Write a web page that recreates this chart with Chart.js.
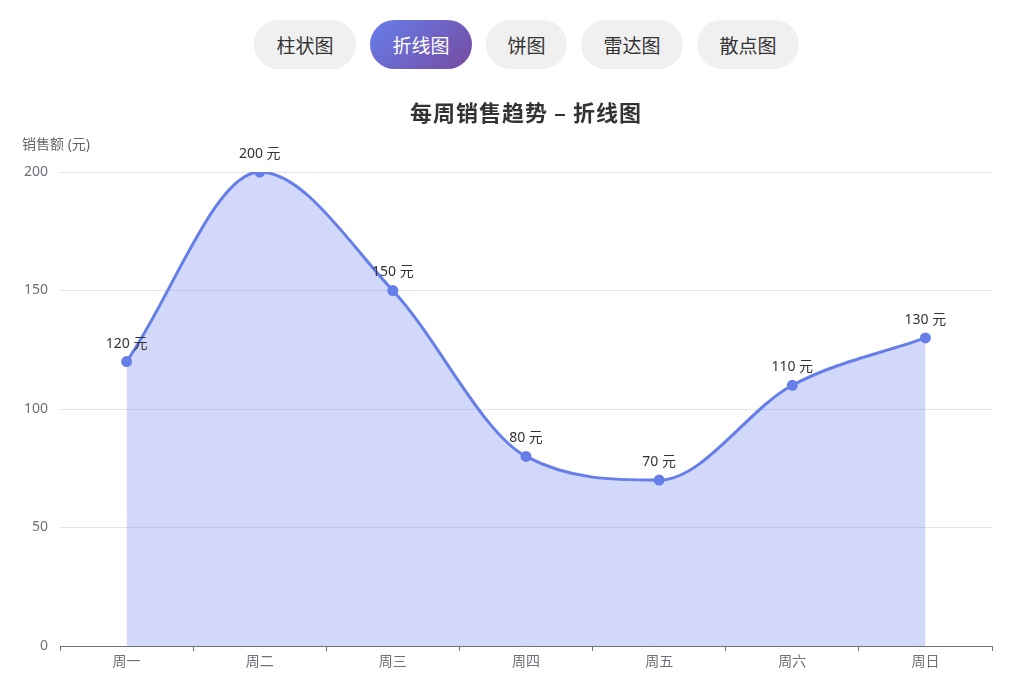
<!DOCTYPE html>
<html>
<head>
<meta charset="utf-8">
<script src="https://cdn.jsdelivr.net/npm/chart.js@4"></script>
<style>
  html, body { margin: 0; padding: 0; background: #fff; }
  body { width: 1024px; height: 697px; position: relative; overflow: hidden;
         font-family: "Noto Sans CJK SC", "Noto Sans", sans-serif; }
  .tabs { position: absolute; top: 20px; left: 254px; display: flex; gap: 14px; }
  .tabs button { height: 49px; padding: 0; border: none; border-radius: 25px;
         background: #f0f0f0; color: #333; font-size: 19px; line-height: 49px;
         font-family: "Noto Sans CJK SC", sans-serif; }
  .tabs button.w3 { width: 102px; }
  .tabs button.w2 { width: 81px; }
  .tabs button.active { background: linear-gradient(135deg, #667eea 0%, #764ba2 100%); color: #fff; }
  .wrap { position: absolute; left: 0; top: 85px; width: 1024px; height: 612px; }
</style>
</head>
<body>
<div class="tabs">
  <button class="w3">柱状图</button>
  <button class="w3 active">折线图</button>
  <button class="w2">饼图</button>
  <button class="w3">雷达图</button>
  <button class="w3">散点图</button>
</div>
<div class="wrap"><canvas id="chart"></canvas></div>
<script>
const days = ['周一', '周二', '周三', '周四', '周五', '周六', '周日'];
const sales = [120, 200, 150, 80, 70, 110, 130];
const yTicks = [0, 50, 100, 150, 200];
const chartTitle = '每周销售趋势 – 折线图';
const yName = '销售额 (元)';

const canvas = document.querySelector('#chart');
const ctx = canvas.getContext('2d');
const font = '"Noto Sans", "Noto Sans CJK SC", sans-serif';

// title, axis name and point labels
const textPlugin = {
    id: 'texts',
    afterDatasetsDraw(chart) {
        const c = chart.ctx;
        const area = chart.chartArea;
        c.save();
        c.fillStyle = '#333';
        c.font = 'bold 22px "Noto Sans CJK SC", sans-serif';
        c.letterSpacing = '1px';
        c.textAlign = 'center';
        c.textBaseline = 'middle';
        c.fillText(chartTitle, (area.left + area.right) / 2, 28);
        c.letterSpacing = '0px';

        c.fillStyle = '#666';
        c.font = '14px ' + font;
        c.textAlign = 'left';
        c.fillText(yName, 22, 60);

        c.fillStyle = '#333';
        c.textAlign = 'center';
        const meta = chart.getDatasetMeta(0);
        meta.data.forEach((pt, i) => {
            c.fillText(sales[i] + ' 元', pt.x, pt.y - 18);
        });
        c.restore();
    }
};

const chart = new Chart(ctx, {
    type: 'line',
    data: {
        labels: days,
        datasets: [{
            data: sales,
            borderColor: '#667eea',
            backgroundColor: 'rgba(102,126,234,0.3)',
            pointBackgroundColor: '#667eea',
            pointBorderColor: '#667eea',
            pointRadius: 4,
            borderWidth: 3,
            fill: 'origin',
            cubicInterpolationMode: 'monotone'
        }]
    },
    options: {
        responsive: true,
        maintainAspectRatio: false,
        animation: false,
        layout: { padding: { top: 87, right: 32, left: 0, bottom: 0 } },
        plugins: { legend: { display: false }, tooltip: { enabled: false } },
        scales: {
            x: {
                offset: true,
                grid: { offset: true, drawOnChartArea: false, drawTicks: true, tickLength: 5, color: '#6e7079' },
                border: { color: '#6e7079', width: 1 },
                ticks: { color: '#6e7079', font: { size: 14, family: font }, padding: 3 },
                afterFit(scale) { scale.height = 51; }
            },
            y: {
                min: 0,
                max: 200,
                afterBuildTicks(scale) { scale.ticks = yTicks.map(v => ({ value: v })); },
                grid: { color: '#e0e6f1', drawTicks: false },
                border: { display: false },
                ticks: { color: '#6e7079', font: { size: 14, family: font }, padding: 12 },
                afterFit(scale) { scale.width = 60; }
            }
        }
    },
    plugins: [textPlugin]
});
</script>
</body>
</html>
